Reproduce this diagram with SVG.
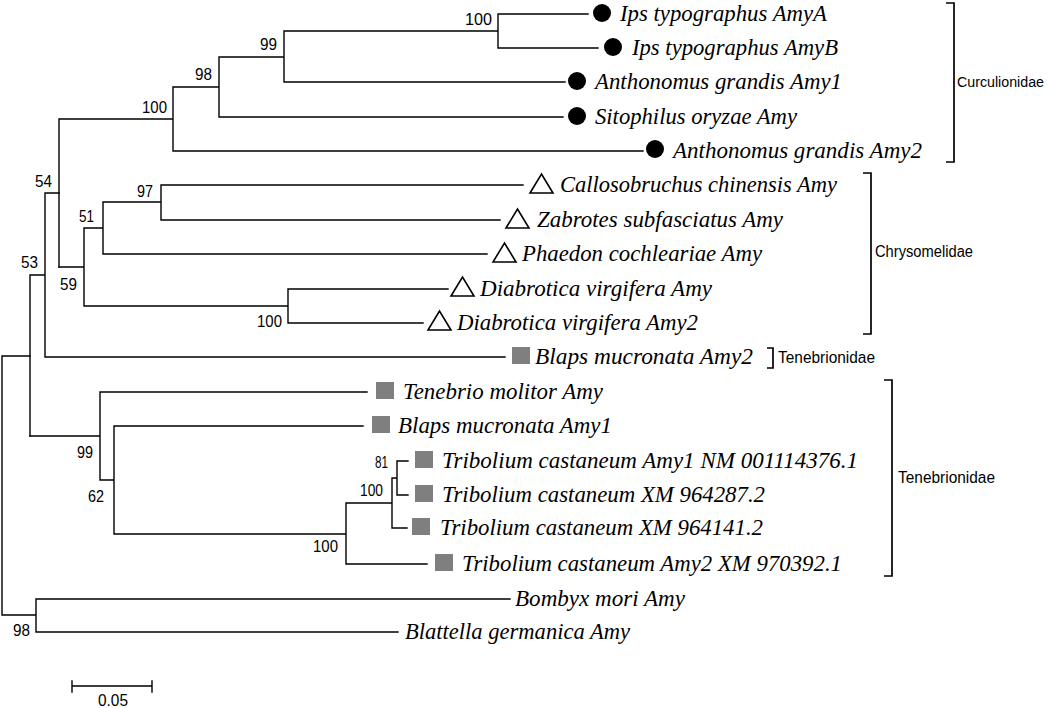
<svg xmlns="http://www.w3.org/2000/svg" width="1050" height="708" viewBox="0 0 1050 708">
<style>
.br{fill:none;stroke:#000;stroke-width:1.4;stroke-linecap:square}
.bk{fill:none;stroke:#000;stroke-width:1.7}
.sp{font-family:"Liberation Serif","Times New Roman",serif;font-style:italic;font-size:24px;fill:#000}
.bs{font-family:"Liberation Sans",Arial,sans-serif;font-size:17px;fill:#000}
.fam{font-family:"Liberation Sans",Arial,sans-serif;font-size:16px;fill:#000}
.fam-sm{font-family:"Liberation Sans",Arial,sans-serif;font-size:14px;fill:#000}
.dot{fill:#000}
.tri{fill:none;stroke:#000;stroke-width:1.6;stroke-linejoin:miter}
.sq{fill:#7f7f7f}
</style>
<rect width="1050" height="708" fill="#fff"/>
<g id="connectors" class="br">
<path d="M498,14V48M498,14H588M498,48H598M284,31H498M284,31V82M284,82H565M219,57H284M219,57V117M219,117H563M173,87H219M173,87V151M173,151H643M59,119H173M59,119V267"/>
<path d="M161,185V220M161,185H523M161,220H500M103,202H161M103,202V254M103,254H487M84,228H103M84,228V306M288,289V323M288,289H448M288,323H423M84,306H288M59,267H84"/>
<path d="M45,193H59M45,193V357M45,357H505M30,275H45M30,275V436"/>
<path d="M100,392V480M100,392H367M114,426V534M114,426H363M397,461V495M397,461H408M397,495H408M392,478V528M392,478H397M392,528H407M346,503V564M346,503H392M346,564H427M114,534H346M100,480H114M30,436H100"/>
<path d="M2,356H30M2,356V615M2,615H36M36,599V632M36,599H510M36,632H398"/>
</g>
<g id="bootstrap">
<text class="bs" x="465" y="25" textLength="27" lengthAdjust="spacingAndGlyphs">100</text>
<text class="bs" x="260" y="50" textLength="17" lengthAdjust="spacingAndGlyphs">99</text>
<text class="bs" x="195" y="80" textLength="17" lengthAdjust="spacingAndGlyphs">98</text>
<text class="bs" x="142" y="113" textLength="25" lengthAdjust="spacingAndGlyphs">100</text>
<text class="bs" x="35" y="187" textLength="17" lengthAdjust="spacingAndGlyphs">54</text>
<text class="bs" x="137" y="197" textLength="16" lengthAdjust="spacingAndGlyphs">97</text>
<text class="bs" x="79" y="222" textLength="15" lengthAdjust="spacingAndGlyphs">51</text>
<text class="bs" x="21" y="268" textLength="17" lengthAdjust="spacingAndGlyphs">53</text>
<text class="bs" x="60" y="290" textLength="17" lengthAdjust="spacingAndGlyphs">59</text>
<text class="bs" x="257" y="327" textLength="25" lengthAdjust="spacingAndGlyphs">100</text>
<text class="bs" x="77" y="458" textLength="16" lengthAdjust="spacingAndGlyphs">99</text>
<text class="bs" x="88" y="502" textLength="16" lengthAdjust="spacingAndGlyphs">62</text>
<text class="bs" x="375" y="468" textLength="13" lengthAdjust="spacingAndGlyphs">81</text>
<text class="bs" x="360" y="496" textLength="23" lengthAdjust="spacingAndGlyphs">100</text>
<text class="bs" x="313" y="552" textLength="25" lengthAdjust="spacingAndGlyphs">100</text>
<text class="bs" x="13" y="636" textLength="17" lengthAdjust="spacingAndGlyphs">98</text>
</g>
<g id="leaf-ips-amya"><circle class="dot" cx="602" cy="13" r="9"/><text class="sp" x="620" y="21" textLength="207" lengthAdjust="spacingAndGlyphs">Ips typographus AmyA</text></g>
<g id="leaf-ips-amyb"><circle class="dot" cx="613" cy="47" r="9"/><text class="sp" x="632" y="55" textLength="206" lengthAdjust="spacingAndGlyphs">Ips typographus AmyB</text></g>
<g id="leaf-anthonomus-amy1"><circle class="dot" cx="577" cy="81" r="9"/><text class="sp" x="595" y="89" textLength="247" lengthAdjust="spacingAndGlyphs">Anthonomus grandis Amy1</text></g>
<g id="leaf-sitophilus"><circle class="dot" cx="577" cy="116" r="9"/><text class="sp" x="595" y="124" textLength="202" lengthAdjust="spacingAndGlyphs">Sitophilus oryzae Amy</text></g>
<g id="leaf-anthonomus-amy2"><circle class="dot" cx="655" cy="149" r="9"/><text class="sp" x="673" y="158" textLength="249" lengthAdjust="spacingAndGlyphs">Anthonomus grandis Amy2</text></g>
<g id="leaf-callosobruchus"><path class="tri" d="M530,193H553L541.5,174Z"/><text class="sp" x="560" y="192" textLength="277" lengthAdjust="spacingAndGlyphs">Callosobruchus chinensis Amy</text></g>
<g id="leaf-zabrotes"><path class="tri" d="M506,228H529L517.5,209Z"/><text class="sp" x="537" y="227" textLength="246" lengthAdjust="spacingAndGlyphs">Zabrotes subfasciatus Amy</text></g>
<g id="leaf-phaedon"><path class="tri" d="M493,262H516L504.5,243Z"/><text class="sp" x="522" y="261" textLength="240" lengthAdjust="spacingAndGlyphs">Phaedon cochleariae Amy</text></g>
<g id="leaf-diabrotica-amy"><path class="tri" d="M451,296H474L462.5,277Z"/><text class="sp" x="480" y="296" textLength="232" lengthAdjust="spacingAndGlyphs">Diabrotica virgifera Amy</text></g>
<g id="leaf-diabrotica-amy2"><path class="tri" d="M428,330H451L439.5,311Z"/><text class="sp" x="457" y="330" textLength="241" lengthAdjust="spacingAndGlyphs">Diabrotica virgifera Amy2</text></g>
<g id="leaf-blaps-amy2"><rect class="sq" x="512" y="347" width="18" height="17"/><text class="sp" x="535" y="364" textLength="218" lengthAdjust="spacingAndGlyphs">Blaps mucronata Amy2</text></g>
<g id="leaf-tenebrio"><rect class="sq" x="376" y="382" width="18" height="17"/><text class="sp" x="403" y="399" textLength="200" lengthAdjust="spacingAndGlyphs">Tenebrio molitor Amy</text></g>
<g id="leaf-blaps-amy1"><rect class="sq" x="372" y="416" width="18" height="17"/><text class="sp" x="398" y="433" textLength="214" lengthAdjust="spacingAndGlyphs">Blaps mucronata Amy1</text></g>
<g id="leaf-tribolium-nm"><rect class="sq" x="415" y="451" width="18" height="17"/><text class="sp" x="442" y="468" textLength="416" lengthAdjust="spacingAndGlyphs">Tribolium castaneum Amy1 NM 001114376.1</text></g>
<g id="leaf-tribolium-964287"><rect class="sq" x="415" y="485" width="18" height="17"/><text class="sp" x="442" y="502" textLength="323" lengthAdjust="spacingAndGlyphs">Tribolium castaneum XM 964287.2</text></g>
<g id="leaf-tribolium-964141"><rect class="sq" x="412" y="518" width="18" height="17"/><text class="sp" x="440" y="535" textLength="323" lengthAdjust="spacingAndGlyphs">Tribolium castaneum XM 964141.2</text></g>
<g id="leaf-tribolium-amy2"><rect class="sq" x="435" y="554" width="18" height="17"/><text class="sp" x="462" y="571" textLength="380" lengthAdjust="spacingAndGlyphs">Tribolium castaneum Amy2 XM 970392.1</text></g>
<g id="leaf-bombyx"><text class="sp" x="515" y="606" textLength="170" lengthAdjust="spacingAndGlyphs">Bombyx mori Amy</text></g>
<g id="leaf-blattella"><text class="sp" x="405" y="639" textLength="225" lengthAdjust="spacingAndGlyphs">Blattella germanica Amy</text></g>
<g id="family-curculionidae"><path class="bk" d="M946,3H954V162H946"/><text class="fam-sm" x="957" y="87" textLength="87" lengthAdjust="spacingAndGlyphs">Curculionidae</text></g>
<g id="family-chrysomelidae"><path class="bk" d="M863,173H871V334H863"/><text class="fam" x="875" y="257" textLength="98" lengthAdjust="spacingAndGlyphs">Chrysomelidae</text></g>
<g id="family-tenebrionidae-1"><path class="bk" d="M767,348H773V368H767"/><text class="fam" x="778" y="363" textLength="97" lengthAdjust="spacingAndGlyphs">Tenebrionidae</text></g>
<g id="family-tenebrionidae-2"><path class="bk" d="M884,380H892V576H884"/><text class="fam" x="898" y="483" textLength="97" lengthAdjust="spacingAndGlyphs">Tenebrionidae</text></g>
<g id="scale-bar"><path class="br" d="M72,686H152M72,681V692M152,681V692"/><text class="bs" x="98" y="706" textLength="30" lengthAdjust="spacingAndGlyphs">0.05</text></g>
</svg>
